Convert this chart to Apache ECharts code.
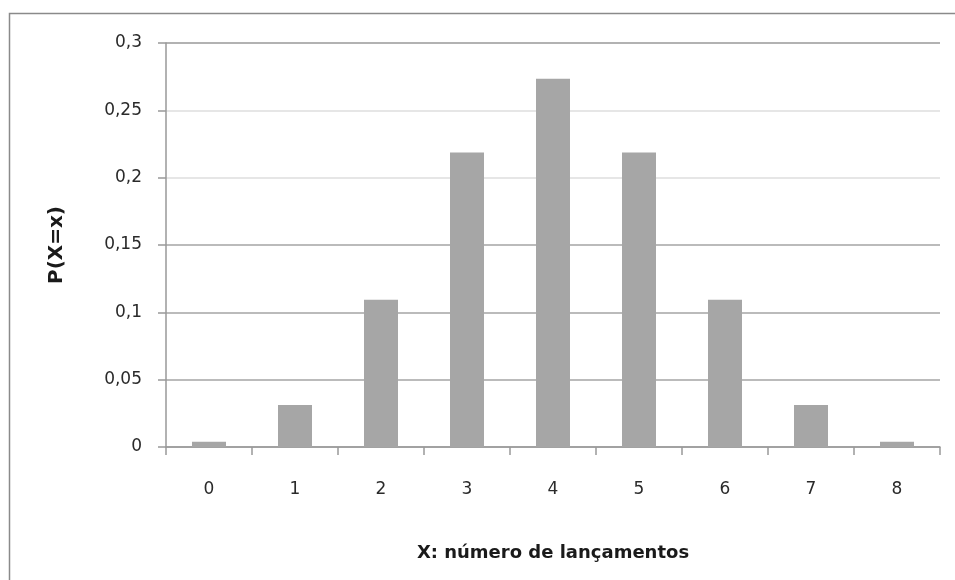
<!DOCTYPE html>
<html>
<head>
<meta charset="utf-8">
<script src="https://cdn.jsdelivr.net/npm/echarts@6/dist/echarts.min.js"></script>
<style>html,body{margin:0;padding:0;background:#fff;}#c{width:955px;height:580px;}</style>
</head>
<body>
<div id="c"></div>
<script>
var categories = ['0','1','2','3','4','5','6','7','8'];
var probabilities = [0.0039, 0.03125, 0.109375, 0.21875, 0.2734, 0.21875, 0.109375, 0.03125, 0.0039];
var yTicks = [0, 0.05, 0.1, 0.15, 0.2, 0.25, 0.3];

var chart = echarts.init(document.getElementById('c'), null, {renderer: 'canvas'});
var font = '"DejaVu Sans", sans-serif';
chart.setOption({
  animation: false,
  backgroundColor: '#fff',
  graphic: [{
    type: 'rect',
    shape: {x: 9.5, y: 13.5, width: 1000, height: 1000},
    style: {fill: 'none', stroke: '#8a8a8a', lineWidth: 1.5},
    silent: true
  }],
  grid: {left: 166, right: 15, top: 43, bottom: 133, containLabel: false},
  xAxis: {
    type: 'category',
    data: categories,
    name: 'X: número de lançamentos',
    nameLocation: 'middle',
    nameGap: 97,
    nameTextStyle: {fontFamily: font, fontWeight: 'bold', fontSize: 18, color: '#1a1a1a'},
    axisLine: {lineStyle: {color: '#999', width: 1.5}},
    axisTick: {show: true, length: 8, alignWithLabel: false, lineStyle: {color: '#999', width: 1.5}},
    axisLabel: {fontFamily: font, fontSize: 17, color: '#2a2a2a', margin: 34},
    splitLine: {show: false}
  },
  yAxis: {
    type: 'value',
    min: 0,
    max: 0.3,
    interval: 0.05,
    name: 'P(X=x)',
    nameLocation: 'middle',
    nameGap: 99,
    nameRotate: 90,
    nameTextStyle: {fontFamily: font, fontWeight: 'bold', fontSize: 20, color: '#1a1a1a'},
    axisLine: {show: true, lineStyle: {color: '#999', width: 1.5}},
    axisTick: {show: true, length: 8, inside: false, lineStyle: {color: '#999', width: 1.5}},
    axisLabel: {
      fontFamily: font, fontSize: 17, color: '#2a2a2a', margin: 24,
      formatter: function (v) {
        for (var i = 0; i < yTicks.length; i++) {
          if (Math.abs(v - yTicks[i]) < 1e-9) return String(yTicks[i]).replace('.', ',');
        }
        return '';
      }
    },
    splitLine: {show: true, lineStyle: {color: ['#aaa', '#a5a5a5', '#a5a5a5', '#a5a5a5', '#dedede', '#dedede', '#999'], width: 1.5}}
  },
  series: [{
    type: 'bar',
    data: probabilities,
    barWidth: 34,
    itemStyle: {color: '#a6a6a6'}
  }]
});
</script>
</body>
</html>
